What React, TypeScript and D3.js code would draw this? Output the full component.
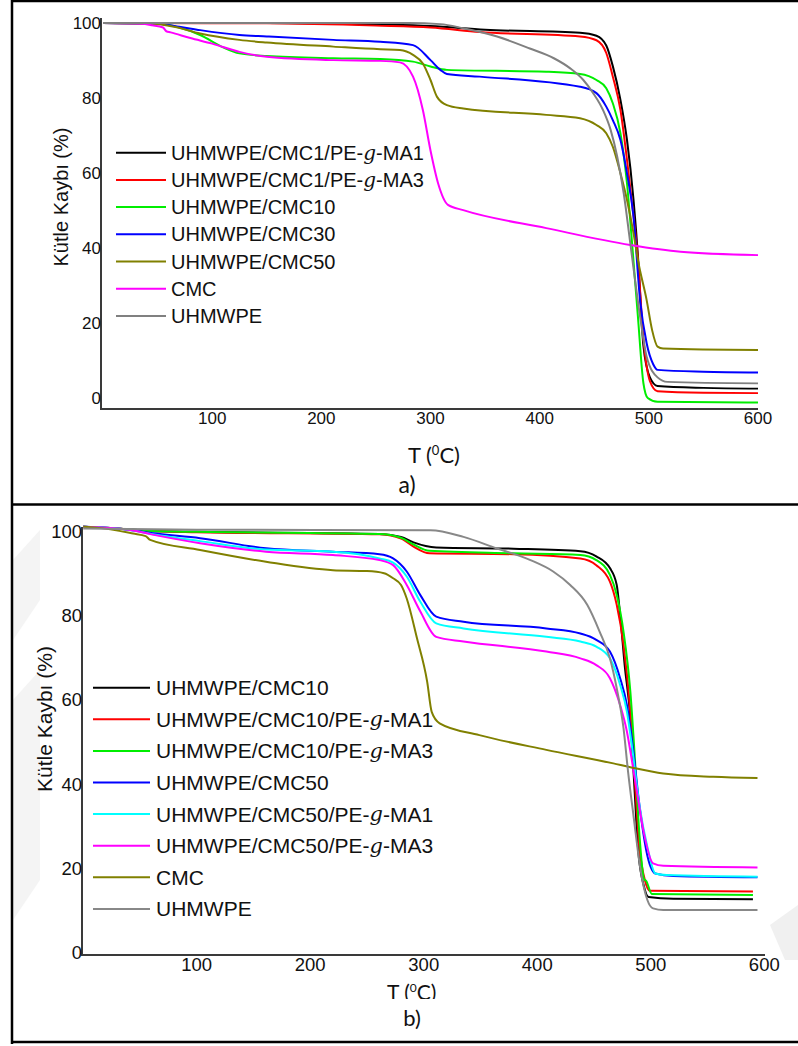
import React from "react";
import * as d3 from "d3";

type Pt = [number, number];

// ---------- Panel a data (T in °C, mass %) ----------
const aCategories = [
  "UHMWPE/CMC1/PE-g-MA1",
  "UHMWPE/CMC1/PE-g-MA3",
  "UHMWPE/CMC10",
  "UHMWPE/CMC30",
  "UHMWPE/CMC50",
  "CMC",
  "UHMWPE",
];
const aColors = ["#000000", "#ff0000", "#00ee00", "#0000ff", "#808000", "#ff00ff", "#808080"];

const aBlack: Pt[] = [[0,100],[150,100],[250,99.6],[300,99.2],[350,98.2],[437,97.4],[452,96.6],[461,94],[467,88.5],[474,79.5],[480,68.8],[486,52.8],[490,38],[495,14],[501,5.5],[508,3.2],[550,2.7],[600,2.5]];
const aRed: Pt[] = [[0,100],[150,99.9],[250,99.3],[300,98.8],[345,97.6],[437,96.4],[452,95.4],[461,92],[467,85.7],[474,76.8],[480,63.5],[486,48.4],[490,37],[495,16],[501,4.5],[508,1.8],[550,1.4],[600,1.3]];
const aGreen: Pt[] = [[0,100],[50,99.8],[70,98.8],[89,96.8],[110,93.5],[125,91.9],[150,91.2],[211,90.6],[254,90.4],[284,89.7],[300,88.4],[315,87.5],[406,87],[437,86.4],[452,84.8],[461,82.6],[467,78.6],[474,70.6],[480,57.2],[485,40],[490,21.7],[495,4],[499,0],[508,-1],[600,-1.2]];
const aBlue: Pt[] = [[0,100],[50,99.8],[70,99],[89,98.1],[125,96.8],[150,96.4],[211,95.5],[254,95],[284,94.1],[300,90.1],[309,87.5],[315,86.4],[345,85.7],[437,83],[452,81.3],[461,77.7],[467,74.1],[474,68.8],[480,59.9],[486,48.3],[492,26],[498,14.6],[504,9],[508,7.5],[550,7],[600,6.8]];
const aOlive: Pt[] = [[0,100],[45,99.8],[65,99],[89,97.2],[125,95.5],[150,94.8],[211,93.7],[254,93],[272,92.8],[284,91.5],[293,89.2],[300,84.8],[306,80.3],[315,78.1],[330,77.2],[406,75.5],[437,74.6],[452,72.8],[461,70.6],[467,67],[474,59.9],[480,52.8],[486,43.9],[490,36.8],[498,26.1],[503,18.1],[508,13.7],[513,13.2],[600,12.8]];
const aMagenta: Pt[] = [[0,100],[35,99.8],[45,99.4],[55,98.8],[58,97.8],[62,97.5],[80,96],[100,94.5],[125,92.3],[150,91],[211,90.1],[254,89.9],[272,89.5],[284,85.7],[293,76.8],[300,66],[307,57.2],[316,51.5],[330,50.1],[406,45.3],[483,40.8],[529,39],[600,38.1]];
const aGray: Pt[] = [[0,100],[280,100],[309,99.7],[330,98.6],[361,96.4],[391,93.2],[413,90.6],[428,87.9],[440,84.8],[449,81.3],[458,76.8],[465,71.5],[471,64.4],[477,54.6],[483,41.3],[492,21.7],[498,11],[508,5.5],[517,4.3],[600,3.9]];
const aSeries = [aBlack, aRed, aGreen, aBlue, aOlive, aMagenta, aGray];

// ---------- Panel b data ----------
const bCategories = [
  "UHMWPE/CMC10",
  "UHMWPE/CMC10/PE-g-MA1",
  "UHMWPE/CMC10/PE-g-MA3",
  "UHMWPE/CMC50",
  "UHMWPE/CMC50/PE-g-MA1",
  "UHMWPE/CMC50/PE-g-MA3",
  "CMC",
  "UHMWPE",
];
const bColors = ["#000000", "#ff0000", "#00ee00", "#0000ff", "#00ffff", "#ff00ff", "#808000", "#888888"];

const bBlack: Pt[] = [[0,101],[30,100.6],[60,100],[100,99.8],[261,99.3],[280,98.6],[291,97.3],[311,96.1],[379,95.8],[438,95.2],[452,94],[464,91.2],[470,87.2],[473,80.1],[477,68.2],[482,55.6],[485,42],[489,24],[494,15.7],[498,13.2],[520,12.8],[590,12.7]];
const bRed: Pt[] = [[0,101],[30,100.6],[60,100],[100,99.7],[261,99.2],[280,98.2],[291,96.3],[305,94.7],[379,94.5],[438,93.5],[452,91.9],[464,88],[470,82.5],[476,73],[482,57.1],[485,45],[490,25],[495,17],[499,14.7],[590,14.5]];
const bGreen: Pt[] = [[0,101],[30,100.6],[60,100],[100,99.8],[261,99.3],[280,98.4],[291,96.8],[305,95.3],[379,94.7],[438,94.3],[452,93.1],[464,89.6],[470,84.8],[476,76.1],[482,61.9],[486,46],[490,28],[494,17.5],[496,17],[501,13.9],[590,13.7]];
const bBlue: Pt[] = [[0,101],[40,100.3],[60,99.5],[103,98.3],[161,95.9],[220,95.1],[261,94.5],[273,93.5],[285,90.4],[297,84.8],[311,79.7],[335,78.5],[408,76.9],[438,75.7],[452,74.2],[464,71.4],[473,65.1],[479,58.7],[484,49.3],[490,35],[497,23],[504,18.8],[520,18.2],[594,17.9]];
const bCyan: Pt[] = [[0,101],[40,100.3],[60,99.3],[103,97.6],[161,95.6],[220,95.1],[261,93.5],[273,92.5],[285,89.2],[297,83.2],[311,78.1],[335,76.9],[408,74.9],[438,73.8],[452,72.6],[464,69.8],[473,63.5],[479,57.1],[484,47.7],[490,35],[497,25.1],[504,18.8],[514,18.4],[594,18]];
const bMagenta: Pt[] = [[0,101],[40,100.3],[60,99.2],[103,97.1],[161,95.1],[220,94.3],[261,93.1],[273,91.9],[285,87.2],[297,80.9],[311,74.9],[335,73.8],[408,71.4],[438,69.8],[452,68.2],[464,65.1],[473,58.7],[479,52.4],[484,44.5],[488,37.8],[494,28.3],[502,21.2],[511,20.6],[594,20.2]];
const bOlive: Pt[] = [[0,101],[12,100.8],[44,99.4],[55,98.8],[59,97.9],[103,95.5],[161,92.7],[220,90.7],[250,90.5],[265,90],[273,88.8],[280,87.2],[285,84],[294,74.6],[303,64.3],[307,57.1],[314,54.4],[349,51.6],[408,48.1],[467,44.9],[482,44],[511,42.5],[555,41.7],[594,41.4]];
const bGray: Pt[] = [[0,100.6],[100,100.3],[306,100.2],[335,98.6],[364,95.9],[394,93.1],[414,90.4],[429,87.2],[444,82.5],[455,76.1],[464,69.8],[470,62.7],[476,53.2],[480,42.9],[485,32],[491,19.6],[497,12.5],[502,10.5],[511,10.1],[594,10.1]];
const bSeries = [bBlack, bRed, bGreen, bBlue, bCyan, bMagenta, bOlive, bGray];

const xTicks = [100, 200, 300, 400, 500, 600];
const yTicks = [0, 20, 40, 60, 80, 100];
const yTitle = "Kütle Kaybı (%)";

const SANS = "'Liberation Sans', Arial, sans-serif";
const CAL = "Lato, 'Open Sans', sans-serif";

function LegendLabel({ text }: { text: string }) {
  const parts = text.split("-g-");
  if (parts.length === 1) return <>{text}</>;
  return (
    <>
      {parts[0]}-<tspan fontStyle="italic" fontFamily="'DejaVu Serif', serif">g</tspan>-{parts[1]}
    </>
  );
}

type PanelCfg = {
  series: Pt[][];
  names: string[];
  colors: string[];
  xRange: [number, number];
  yRange: [number, number];
  axisX: number;
  axisY: number;
  axisTop: number;
  axisRight: number;
  tickFont: number;
  tickLabelY: number;
  titleX: number;
  titleY: number;
  titleFont: number;
  legX1: number;
  legX2: number;
  legTextX: number;
  legY0: number;
  legDy: number;
  legFont: number;
};

function Panel(c: PanelCfg) {
  const x = d3.scaleLinear().domain([0, 600]).range(c.xRange);
  const y = d3.scaleLinear().domain([0, 100]).range(c.yRange);
  const line = d3
    .line<Pt>()
    .x((d) => x(d[0]))
    .y((d) => y(d[1]))
    .curve(d3.curveMonotoneX);
  return (
    <g>
      {c.series.map((s, i) => (
        <path key={i} d={line(s) || ""} fill="none" stroke={c.colors[i]} strokeWidth={2} strokeLinejoin="round" />
      ))}
      <line x1={c.axisX} x2={c.axisX} y1={c.axisTop} y2={c.axisY + 1} stroke="#3a3a3a" strokeWidth={2} />
      <line x1={c.axisX} x2={c.axisRight} y1={c.axisY} y2={c.axisY} stroke="#3a3a3a" strokeWidth={2} />
      {yTicks.map((t) => (
        <text key={t} x={c.axisX} y={y(t)} textAnchor="end" dominantBaseline="central" fontFamily={SANS} fontSize={c.tickFont} fill="#111">
          {t}
        </text>
      ))}
      {xTicks.map((t) => (
        <text key={t} x={x(t)} y={c.tickLabelY} textAnchor="middle" dominantBaseline="central" fontFamily={SANS} fontSize={c.tickFont} fill="#111">
          {t}
        </text>
      ))}
      <text
        transform={`translate(${c.titleX},${c.titleY}) rotate(-90)`}
        textAnchor="middle"
        dominantBaseline="central"
        fontFamily={SANS}
        fontSize={c.titleFont}
        fill="#111"
      >
        {yTitle}
      </text>
      {c.names.map((n, i) => {
        const yy = c.legY0 + i * c.legDy;
        return (
          <g key={n}>
            <line x1={c.legX1} x2={c.legX2} y1={yy} y2={yy} stroke={c.colors[i]} strokeWidth={2} />
            <text x={c.legTextX} y={yy} dominantBaseline="central" fontFamily={SANS} fontSize={c.legFont} fill="#111">
              <LegendLabel text={n} />
            </text>
          </g>
        );
      })}
    </g>
  );
}

export default function App() {
  return (
    <svg
      width={798}
      height={1046}
      viewBox="0 0 798 1046"
      style={{ position: "absolute", left: 0, top: 0, background: "#fff" }}
    >
      <defs>
        <clipPath id="clipB">
          <rect x={0} y={0} width={798} height={999} />
        </clipPath>
      </defs>
      <rect x={0} y={0} width={798} height={1046} fill="#fff" />
      {/* faint watermark shapes */}
      <polygon points="13,560 40,530 40,600 13,640" fill="#f4f4f4" />
      <polygon points="13,700 40,670 40,880 13,920" fill="#f4f4f4" />
      <polygon points="770,925 798,905 798,960 785,960" fill="#f0f0f0" />

      <Panel
        series={aSeries}
        names={aCategories}
        colors={aColors}
        xRange={[103, 758]}
        yRange={[398, 23]}
        axisX={101}
        axisY={409}
        axisTop={18}
        axisRight={758}
        tickFont={17}
        tickLabelY={418}
        titleX={61}
        titleY={197}
        titleFont={20}
        legX1={116}
        legX2={166}
        legTextX={171}
        legY0={152.7}
        legDy={27.2}
        legFont={20}
      />
      <Panel
        series={bSeries}
        names={bCategories}
        colors={bColors}
        xRange={[83.2, 764.3]}
        yRange={[952.7, 531]}
        axisX={82}
        axisY={955}
        axisTop={527}
        axisRight={765}
        tickFont={18.5}
        tickLabelY={964}
        titleX={44}
        titleY={719}
        titleFont={21}
        legX1={93}
        legX2={150}
        legTextX={156}
        legY0={687.7}
        legDy={31.6}
        legFont={21}
      />

      {/* x axis titles and panel labels */}
      <text x={408} y={463} fontFamily={CAL} fontSize={22} fill="#111">
        T (<tspan dy={-8} fontSize={13}>0</tspan><tspan dy={8}>C)</tspan>
      </text>
      <text x={407} y={493} textAnchor="middle" fontFamily={CAL} fontSize={23} fill="#111">
        a)
      </text>
      <g clipPath="url(#clipB)">
        <text x={387} y={1000} fontFamily={CAL} fontSize={21} fill="#111">
          T (<tspan dy={-8} fontSize={12}>0</tspan><tspan dy={8}>C)</tspan>
        </text>
      </g>
      <text x={412} y={1026} textAnchor="middle" fontFamily={CAL} fontSize={22} fill="#111">
        b)
      </text>

      {/* frame */}
      <line x1={11} x2={798} y1={1} y2={1} stroke="#000" strokeWidth={2.5} />
      <line x1={12} x2={12} y1={0} y2={1044} stroke="#000" strokeWidth={2.5} />
      <line x1={11} x2={798} y1={504.5} y2={504.5} stroke="#000" strokeWidth={2.5} />
      <line x1={11} x2={798} y1={1042} y2={1042} stroke="#000" strokeWidth={2.5} />
    </svg>
  );
}
